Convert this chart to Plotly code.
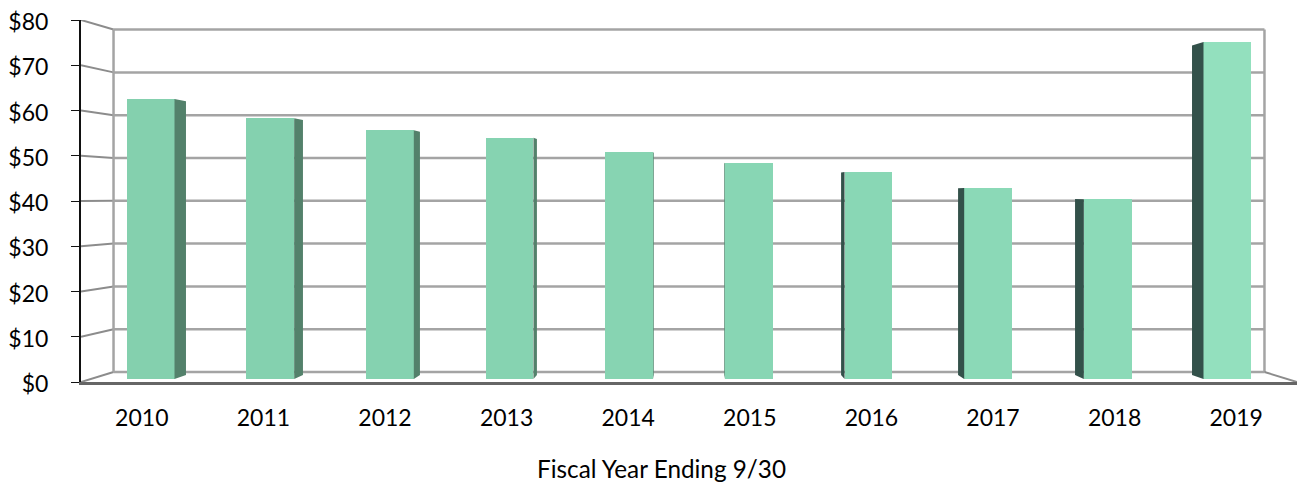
import plotly.graph_objects as go

years = ["2010", "2011", "2012", "2013", "2014", "2015", "2016", "2017", "2018", "2019"]
values = [62.9, 58.6, 55.9, 54.2, 51.0, 48.6, 46.5, 42.9, 40.4, 75.7]
y_ticks = [0, 10, 20, 30, 40, 50, 60, 70, 80]
y_tick_labels = ["$0", "$10", "$20", "$30", "$40", "$50", "$60", "$70", "$80"]
x_title = "Fiscal Year Ending 9/30"

front_colors = ["#84D0AE", "#84D1AF", "#85D2B0", "#86D3B1", "#87D4B2",
                "#88D6B4", "#89D7B5", "#8BD9B7", "#8CDAB8", "#93E0BE"]
side_colors = ["#53816B", "#53816B", "#53816B", "#53816B", "#5E9079",
               "#5E9079", "#33514A", "#33514A", "#33514A", "#33514A"]

# perspective of the 3D box: depth 0 = front plane (the axes), depth 1 = back wall
X_SHRINK = 0.0535
Y_SHRINK = 0.0541
Y_LIFT = 2.21
BAR_NEAR, BAR_FAR = 0.30, 0.71
BAR_WIDTH = 0.40
CENTER = (len(years) - 1) / 2


def px_(x, d):
    return CENTER + (x - CENTER) * (1 - X_SHRINK * d)


def py_(v, d):
    return Y_LIFT * d + v * (1 - Y_SHRINK * d)


fig = go.Figure()
n = len(years)
x_lo, x_hi = -0.5, n - 0.5

# back wall and left wall lines
shapes = []
GRID = dict(color="#A4A4A4", width=2.5)
WALL = dict(color="#8C8C8C", width=2)
for t in y_ticks:
    shapes.append(dict(type="line", layer="below", x0=px_(x_lo, 1), x1=px_(x_hi, 1),
                       y0=py_(t, 1), y1=py_(t, 1), line=GRID))
    shapes.append(dict(type="line", layer="below", x0=x_lo, x1=px_(x_lo, 1),
                       y0=t, y1=py_(t, 1), line=WALL))
for edge in (x_lo, x_hi):
    shapes.append(dict(type="line", layer="below", x0=px_(edge, 1), x1=px_(edge, 1),
                       y0=py_(0, 1), y1=py_(y_ticks[-1], 1), line=GRID))
shapes.append(dict(type="line", layer="below", x0=x_hi, x1=px_(x_hi, 1),
                   y0=0, y1=py_(0, 1), line=WALL))

# front faces
fig.add_bar(
    x=[px_(i, BAR_NEAR) for i in range(n)],
    y=[py_(v, BAR_NEAR) - py_(0, BAR_NEAR) for v in values],
    base=[py_(0, BAR_NEAR)] * n,
    width=BAR_WIDTH * (1 - X_SHRINK * BAR_NEAR),
    marker=dict(color=front_colors, line=dict(width=0)),
    hoverinfo="skip",
    showlegend=False,
)

# side faces: the side turned towards the centre of the box is visible
for i, v in enumerate(values):
    edge = i + BAR_WIDTH / 2 if i < CENTER else i - BAR_WIDTH / 2
    xs = [px_(edge, BAR_NEAR), px_(edge, BAR_FAR), px_(edge, BAR_FAR), px_(edge, BAR_NEAR)]
    ys = [py_(0, BAR_NEAR), py_(0, BAR_FAR), py_(v, BAR_FAR), py_(v, BAR_NEAR)]
    fig.add_scatter(x=xs, y=ys, mode="lines", fill="toself", fillcolor=side_colors[i],
                    line=dict(width=0), hoverinfo="skip", showlegend=False)

FONT = dict(family="Lato, Carlito, Calibri, sans-serif", size=23, color="#000000")
TITLE_FONT = dict(family="Lato, Carlito, Calibri, sans-serif", size=24.3, color="#000000")

fig.update_layout(
    width=1299, height=483,
    margin=dict(l=81, r=2, t=20, b=101, pad=0),
    paper_bgcolor="#FFFFFF", plot_bgcolor="#FFFFFF",
    bargap=0, shapes=shapes,
    font=FONT,
    xaxis=dict(range=[x_lo, x_hi], tickmode="array", tickvals=list(range(n)), ticktext=years,
               showgrid=False, zeroline=False, showline=True, linecolor="#666666", linewidth=3,
               ticks="", ticklabelstandoff=13, tickfont=FONT),
    yaxis=dict(range=[0, y_ticks[-1]], tickmode="array", tickvals=y_ticks, ticktext=y_tick_labels,
               showgrid=False, zeroline=False, showline=True, linecolor="#111111", linewidth=2,
               ticks="outside", ticklen=8, tickwidth=1, tickcolor="#111111",
               ticklabelstandoff=18, ticklabelshift=2, tickfont=FONT),
    annotations=[dict(text=x_title, xref="paper", yref="paper", x=(661 - 81) / 1216, y=-86 / 362,
                      xanchor="center", yanchor="middle", showarrow=False, font=TITLE_FONT)],
)

fig.write_html("out.html", config={"displayModeBar": False},
               post_script="document.body.style.margin='0';")
